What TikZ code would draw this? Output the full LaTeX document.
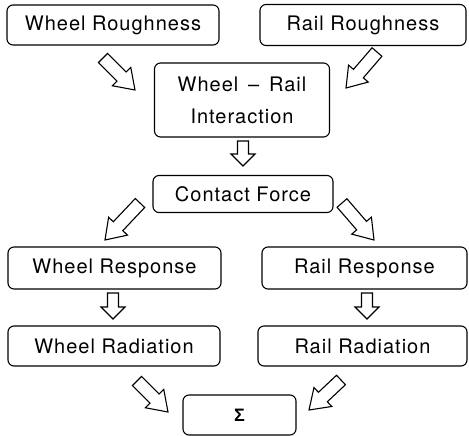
\documentclass[tikz,border=0pt]{standalone}
\usepackage{fontspec}
\setmainfont[LetterSpace=5]{TeX Gyre Heros}
\newfontfamily\sigmafont{Liberation Sans}
\usetikzlibrary{calc}
\tikzset{
  box/.style={draw, rounded corners=6pt, line width=1.1pt, inner sep=0pt, align=center,
    font=\fontsize{20}{32}\selectfont},
  barrowstyle/.style={draw, line width=1.1pt, line join=miter, fill=white}
}
% #1 tail, #2 tip, #3 shaft half width, #4 head half width, #5 head length
\newcommand\blockarrow[5]{%
  \draw[barrowstyle] ($(#1)!#3!90:(#2)$) -- ($(#2)!#5!(#1)!#3!-90:(#1)$)
    -- ($(#2)!#5!(#1)!#4!-90:(#1)$) -- (#2)
    -- ($(#2)!#5!(#1)!#4!90:(#1)$) -- ($(#2)!#5!(#1)!#3!90:(#1)$)
    -- ($(#1)!#3!-90:(#2)$) -- cycle;}
\begin{document}
\begin{tikzpicture}[x=1pt,y=-1pt]
\useasboundingbox (0,0) rectangle (469,436);
\node[box, minimum width=212pt, minimum height=40pt] (wr) at (113,25) {Wheel Roughness};
\node[box, minimum width=206pt, minimum height=41pt] (rr) at (363,25) {Rail Roughness};
\node[box, minimum width=175pt, minimum height=74pt] (int) at (242,100) {Wheel \,–\, Rail\\Interaction};
\node[box, minimum width=180pt, minimum height=37pt] (cf) at (243,194) {Contact Force};
\node[box, minimum width=213pt, minimum height=42pt] (wresp) at (114.5,268) {Wheel Response};
\node[box, minimum width=205pt, minimum height=42pt] (rresp) at (364.5,268) {Rail Response};
\node[box, minimum width=212pt, minimum height=40pt] (wrad) at (114,346) {Wheel Radiation};
\node[box, minimum width=209pt, minimum height=40pt] (rrad) at (362.5,346) {Rail Radiation};
\node[box, minimum width=113pt, minimum height=40pt] (sum) at (239.5,415) {\sigmafont\bfseries\fontsize{18}{20}\selectfont Σ};
% arrow end points
\coordinate (a1t) at (103,58);  \coordinate (a1h) at (135,90);
\coordinate (a2t) at (377,52);  \coordinate (a2h) at (346,88);
\coordinate (a3t) at (243,141); \coordinate (a3h) at (243,166);
\coordinate (a4t) at (140,203); \coordinate (a4h) at (105,240);
\coordinate (a5t) at (342,203); \coordinate (a5h) at (374,240);
\coordinate (a6t) at (113,293); \coordinate (a6h) at (113,319);
\coordinate (a7t) at (367,293); \coordinate (a7h) at (367,319);
\coordinate (a8t) at (137,381); \coordinate (a8h) at (168,412);
\coordinate (a9t) at (341,380); \coordinate (a9h) at (309,410);
\blockarrow{a1t}{a1h}{6.5pt}{13pt}{19pt}
\blockarrow{a2t}{a2h}{6.5pt}{13pt}{19pt}
\blockarrow{a3t}{a3h}{5.5pt}{12pt}{12pt}
\blockarrow{a4t}{a4h}{6.5pt}{13pt}{19pt}
\blockarrow{a5t}{a5h}{6.5pt}{13pt}{19pt}
\blockarrow{a6t}{a6h}{5.5pt}{12pt}{12pt}
\blockarrow{a7t}{a7h}{5.5pt}{12pt}{12pt}
\blockarrow{a8t}{a8h}{6.5pt}{13pt}{19pt}
\blockarrow{a9t}{a9h}{6.5pt}{13pt}{19pt}
\end{tikzpicture}
\end{document}
